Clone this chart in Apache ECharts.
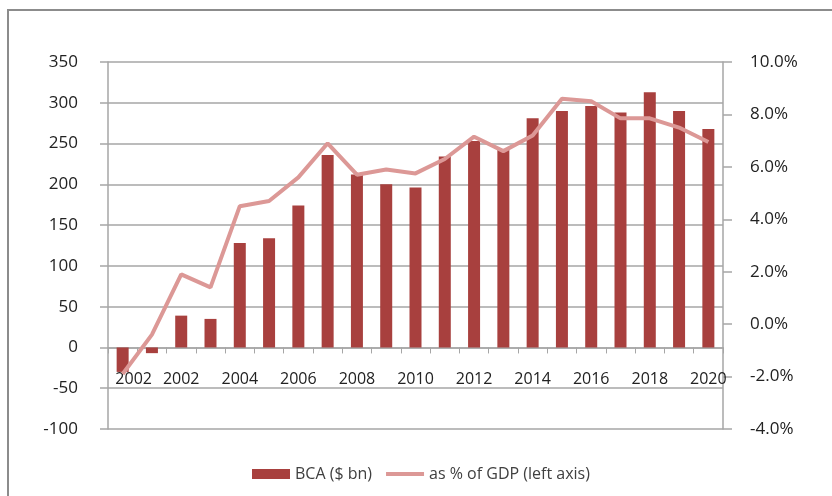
<!DOCTYPE html>
<html>
<head>
<meta charset="utf-8">
<script src="https://cdn.jsdelivr.net/npm/echarts@6/dist/echarts.min.js"></script>
<style>
  html, body { margin: 0; padding: 0; background: #fff; }
  #chart { width: 832px; height: 496px; }
</style>
</head>
<body>
<div id="chart"></div>
<script>
// 年份与标签（原图首个标签写作 2002）
const years = ['2000', '2001', '2002', '2003', '2004', '2005', '2006', '2007', '2008', '2009', '2010',
    '2011', '2012', '2013', '2014', '2015', '2016', '2017', '2018', '2019', '2020'];
const tickLabels = ['2002', '', '2002', '', '2004', '', '2006', '', '2008', '', '2010',
    '', '2012', '', '2014', '', '2016', '', '2018', '', '2020'];

// BCA ($ bn)
const bcaValues = [-30, -7, 39, 35, 128, 134, 174, 236, 212, 200, 196,
    234, 253, 243, 281, 290, 296, 288, 313, 290, 268];

// as % of GDP
const gdpShare = [-1.9, -0.4, 1.9, 1.4, 4.5, 4.7, 5.6, 6.9, 5.7, 5.9, 5.75,
    6.3, 7.15, 6.6, 7.2, 8.6, 8.5, 7.85, 7.85, 7.5, 6.95];

const chart = echarts.init(document.getElementById('chart'));
const font = '"Open Sans", "Liberation Sans", sans-serif';
const gray = '#a6a6a6';

// 左轴范围，用来把类目轴放到 0 的位置
const leftMin = -100, leftMax = 350;
const gridTop = 62, gridBottom = 67;
const gridHeight = 496 - gridTop - gridBottom;
const zeroOffset = gridHeight * (0 - leftMin) / (leftMax - leftMin);

chart.setOption({
    animation: false,
    textStyle: { fontFamily: font },
    graphic: [{
        type: 'rect',
        shape: { x: 8, y: 10, width: 900, height: 600 },
        style: { fill: 'none', stroke: '#8c8c8c', lineWidth: 2 },
        silent: true
    }],
    grid: { left: 108, right: 109, top: gridTop, bottom: gridBottom },
    legend: {
        left: 247,
        top: 461,
        itemWidth: 38,
        itemHeight: 10,
        itemGap: 14,
        textStyle: { fontSize: 16, color: '#404040', fontFamily: font },
        data: [
            { name: 'BCA ($ bn)', icon: 'rect' },
            { name: 'as % of GDP (left axis)', icon: 'path://M0,0H40V4H0Z' }
        ]
    },
    xAxis: {
        type: 'category',
        data: years,
        offset: -zeroOffset,
        axisLine: { onZero: false, lineStyle: { color: gray, width: 1.5 } },
        axisTick: { show: true, length: 6, lineStyle: { color: gray } },
        axisLabel: {
            interval: 0,
            margin: 24,
            fontSize: 16,
            color: '#222',
            formatter: (v, i) => i === 0 ? '{a|' + tickLabels[i] + '}' : tickLabels[i],
            rich: { a: { fontSize: 16, color: '#222', padding: [0, 0, 0, 22] } }
        }
    },
    yAxis: [{
        type: 'value',
        min: leftMin,
        max: leftMax,
        interval: 50,
        axisLine: { show: true, lineStyle: { color: gray, width: 1.5 } },
        axisTick: { show: true, length: 8, lineStyle: { color: gray, width: 1.5 } },
        axisLabel: { fontSize: 17, color: '#222', margin: 30 },
        splitLine: { lineStyle: { color: gray, width: 1.5 } }
    }, {
        type: 'value',
        min: -4,
        max: 10,
        interval: 2,
        position: 'right',
        axisLine: { show: true, lineStyle: { color: gray, width: 1.5 } },
        axisTick: { show: true, length: 9, lineStyle: { color: gray, width: 1.5 } },
        axisLabel: {
            fontSize: 17,
            color: '#222',
            margin: 27,
            formatter: v => v.toFixed(1) + '%'
        },
        splitLine: { show: false }
    }],
    series: [{
        name: 'BCA ($ bn)',
        type: 'bar',
        data: bcaValues,
        barWidth: 12,
        itemStyle: { color: '#a8403e' }
    }, {
        name: 'as % of GDP (left axis)',
        type: 'line',
        yAxisIndex: 1,
        data: gdpShare,
        showSymbol: false,
        symbol: 'none',
        lineStyle: { color: '#dc9896', width: 4 },
        itemStyle: { color: '#dc9896' }
    }]
});
</script>
</body>
</html>
